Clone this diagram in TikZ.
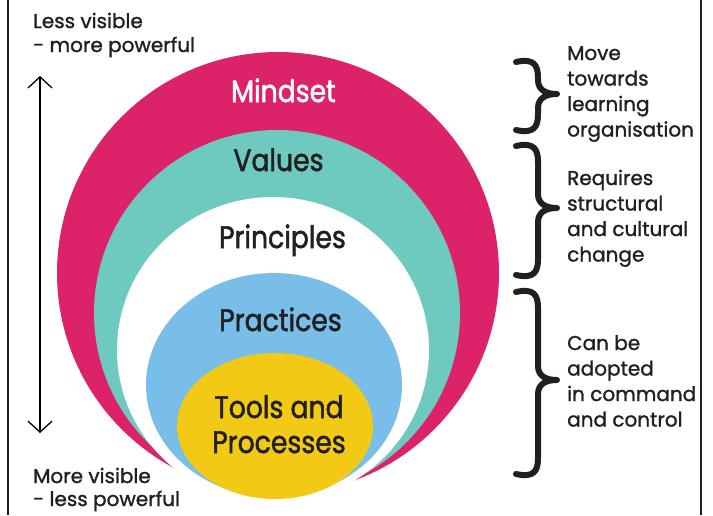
\documentclass[tikz,border=0pt]{standalone}
\usepackage{fontspec}
\setmainfont{Poppins}[FakeBold=1.3]
\newfontfamily\bigfont{Poppins}[FakeStretch=0.86, FakeBold=1.6]
\usetikzlibrary{arrows.meta}
\definecolor{mag}{RGB}{220,35,105}
\definecolor{teal2}{RGB}{110,201,190}
\definecolor{blu}{RGB}{120,190,232}
\definecolor{yel}{RGB}{242,202,22}
\definecolor{ink}{RGB}{35,31,32}
\tikzset{
  big/.style={font=\bigfont\fontsize{31}{36}\selectfont, text=ink, inner sep=0pt, anchor=base},
  side/.style={font=\fontsize{20}{24}\selectfont, text=ink, inner sep=0pt, anchor=base west},
  brace/.style={line width=6pt, line cap=round, line join=round, draw=ink},
  frame/.style={line width=2pt, draw=ink},
}
\newcommand{\mybrace}[3]{%
  \draw[brace] (516,#1+2) .. controls (534,#1-2) and (538,#1+5) .. (538,#1+18)
    -- (538,#3-14) .. controls (538,#3-4) and (546,#3) .. (557,#3)
    .. controls (546,#3) and (538,#3+4) .. (538,#3+14)
    -- (538,#2-18) .. controls (538,#2-5) and (534,#2+2) .. (516,#2-2);}
\begin{document}
\begin{tikzpicture}[x=1pt,y=-1pt]
\useasboundingbox (0,0) rectangle (713,515);
% frame
\coordinate (fl1) at (8,0); \coordinate (fl2) at (8,515);
\coordinate (fr1) at (701,0); \coordinate (fr2) at (701,515);
\draw[frame] (fl1) -- (fl2);
\draw[frame] (fr1) -- (fr2);
% nested shapes
\fill[mag] (278,273) circle [radius=221];
\fill[teal2] (277,313) circle [radius=183];
\fill[white] (273,350) ellipse [x radius=156, y radius=153];
\fill[blu] (274,385) ellipse [x radius=128, y radius=112];
\fill[yel] (275,426) ellipse [x radius=98, y radius=73];
% central labels
\node[big, text=white] (mindset) at (283.5,102) {Mindset};
\node[big] (values) at (278.5,171) {Values};
\node[big] (principles) at (282.5,248) {Principles};
\node[big] (practices) at (280.5,331) {Practices};
\node[big] (tools) at (279,418) {Tools and};
\node[big] (processes) at (279,453) {Processes};
% left labels and arrow
\node[side] (lv1) at (33,28) {Less visible};
\node[side] (lv2) at (33,52) {- more powerful};
\node[side] (mv1) at (33,483) {More visible};
\node[side] (mv2) at (33,506) {- less powerful};
\coordinate (atop) at (40,76);
\coordinate (abot) at (40,433);
\draw[line width=1.3pt, draw=black, {Straight Barb[length=11pt,width=24pt]}-{Straight Barb[length=11pt,width=24pt]}] (atop) -- (abot);
% braces
\mybrace{60}{132}{94}
\mybrace{144}{277}{208}
\mybrace{290}{476}{380}
% right labels
\node[side] (m1) at (567,60) {Move};
\node[side] (m2) at (567,85.5) {towards};
\node[side] (m3) at (567,111) {learning};
\node[side] (m4) at (567,136.5) {organisation};
\node[side] (r1) at (567,185) {Requires};
\node[side] (r2) at (567,210.5) {structural};
\node[side] (r3) at (567,236) {and cultural};
\node[side] (r4) at (567,261.5) {change};
\node[side] (c1) at (567,350) {Can be};
\node[side] (c2) at (567,375.5) {adopted};
\node[side] (c3) at (567,401) {in command};
\node[side] (c4) at (567,426.5) {and control};
\end{tikzpicture}
\end{document}
